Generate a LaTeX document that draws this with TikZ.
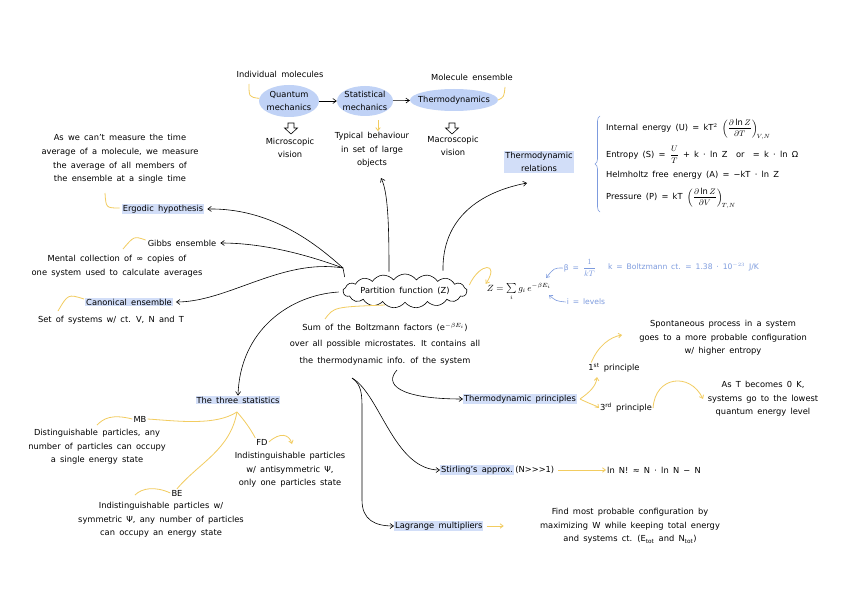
\documentclass[tikz,border=0pt]{standalone}
\usepackage{fontspec}
\setmainfont{DejaVu Sans}[WordSpace=1.6]
\usetikzlibrary{arrows.meta,shapes.symbols,shapes.geometric,decorations.pathreplacing}
\definecolor{hlblue}{RGB}{210,222,248}
\definecolor{blobblue}{RGB}{192,210,246}
\definecolor{ylw}{RGB}{242,204,96}
\definecolor{annblue}{RGB}{125,155,222}
\begin{document}
\begin{tikzpicture}[x=1pt,y=-1pt,
  txt/.style={font=\fontsize{8.3}{13.6}\selectfont, align=center, inner sep=1pt},
  hl/.style={txt, fill=hlblue},
  blob/.style={ellipse, fill=blobblue, inner sep=0pt},
  arr/.style={-{Straight Barb[length=3.5pt,width=5pt]}, semithick, black},
  yarr/.style={-{Straight Barb[length=3pt,width=4.5pt]}, ylw, thick},
  yl/.style={ylw, thick},
  barr/.style={-{Straight Barb[length=3pt,width=4.5pt]}, annblue, semithick},
  hollowdown/.pic={\draw[semithick] (-3,-5) -- (3,-5) -- (3,0) -- (6.5,0) -- (0,6) -- (-6.5,0) -- (-3,0) -- cycle;}
]
\useasboundingbox (0,0) rectangle (848,599);
\fill[white] (0,0) rectangle (848,599);

% ---------- top row ----------
\node[blob, minimum width=60pt, minimum height=32pt] (qmb) at (289,101) {};
\node[blob, minimum width=56pt, minimum height=30pt] (smb) at (365,101) {};
\node[blob, minimum width=88pt, minimum height=22pt] (tdb) at (454,100) {};
\node[txt] (qm) at (qmb) {Quantum\\mechanics};
\node[txt] (sm) at (smb) {Statistical\\mechanics};
\node[txt] (td) at (tdb) {Thermodynamics};
\draw[arr] (qmb) -- (smb);
\draw[arr] (smb) -- (tdb);
\node[txt] (indiv) at (280,74) {Individual molecules};
\node[txt] (molens) at (472,77) {Molecule ensemble};
\draw[yl] (qmb.175) .. controls (249,97) .. (249,84);
\draw[yl] (tdb.east) .. controls (504,97) .. (505,87);
\pic at (291,128) {hollowdown};
\pic at (452,128) {hollowdown};
\node[txt] (micro) at (290,148) {Microscopic\\vision};
\node[txt] (macro) at (453,146) {Macroscopic\\vision};
\node[txt] (typ) at (372,150) {Typical behaviour\\in set of large\\objects};
\draw[yarr] (smb.south) ++(13,4) coordinate (smd) -- ++(0,11);

% ---------- thermodynamic relations ----------
\node[hl] (therrel) at (539,162) {Thermodynamic\\relations};
\draw[annblue, semithick, decorate, decoration={brace, amplitude=5pt}] (600,212) -- (600,116);
\node[txt, anchor=west] (f1) at (605,129) {Internal energy (U) = kT$^2$ $\displaystyle\left(\frac{\partial \ln Z}{\partial T}\right)_{\!V,N}$};
\node[txt, anchor=west] (f2) at (605,155) {Entropy (S) = $\displaystyle\frac{U}{T}$ + k · ln Z \ or \ = k · ln Ω};
\node[txt, anchor=west] (f3) at (605,175) {Helmholtz free energy (A) = −kT · ln Z};
\node[txt, anchor=west] (f4) at (605,198) {Pressure (P) = kT $\displaystyle\left(\frac{\partial \ln Z}{\partial V}\right)_{\!T,N}$};

% ---------- left column ----------
\node[txt] (ergtxt) at (120,159) {As we can't measure the time\\average of a molecule, we measure\\the average of all members of\\the ensemble at a single time};
\node[hl] (erg) at (163,209) {Ergodic hypothesis};
\draw[yl] (erg.west) ++(-2,-1) .. controls (106,208) .. (105,193);
\node[txt] (gibbs) at (182,243) {Gibbs ensemble};
\node[txt] (gibbstxt) at (117,266) {Mental collection of ∞ copies of\\one system used to calculate averages};
\draw[yl] (gibbs.west) ++(-1,-3) .. controls (134,236) .. (123,249);
\node[hl] (canon) at (129,302) {Canonical ensemble};
\node[txt] (canontxt) at (111,320) {Set of systems w/ ct. V, N and T};
\draw[yl] (canon.west) ++(-1,-3) .. controls (68,294) .. (58,311);

% ---------- centre ----------
\node[cloud, draw, semithick, cloud puffs=17, cloud puff arc=110, cloud ignores aspect,
      minimum width=124pt, minimum height=34pt, inner sep=0pt] (pfc) at (405,291) {};
\node[txt] (pf) at (pfc) {Partition function (Z)};
\coordinate (fan) at (343,268);
\draw[semithick] (pfc.west) ++(2,-14) -- (fan);
\draw[arr] (fan) .. controls (312,240) and (268,208) .. ([xshift=3pt]erg.east);
\draw[arr] (fan) .. controls (305,254) and (262,243) .. ([xshift=3pt]gibbs.east);
\draw[arr] (fan) .. controls (282,258) and (228,302) .. ([xshift=3pt]canon.east);
\coordinate (typend) at (381,178);
\draw[arr] (pfc.north) ++(-16,-2) .. controls (389,225) and (388,192) .. (typend);
\coordinate (relend) at (527,183);
\draw[arr] (pfc.north) ++(38,-3) .. controls (442,218) and (480,192) .. (relend);

\node[txt, font=\fontsize{9}{11}\selectfont] (zf) at (519,292) {$Z=\sum\limits_i g_i\,e^{-\beta E_i}$};
\draw[yarr] (pfc.east) ++(2,-6) .. controls (480,262) and (500,262) .. ([yshift=-2pt]zf.north west);
\node[txt, text=annblue, font=\fontsize{7.6}{10}\selectfont] (beta) at (580,268) {β = $\displaystyle\frac{1}{kT}$};
\node[txt, text=annblue, anchor=west, font=\fontsize{7.6}{10}\selectfont] (kB) at (607,267) {k = Boltzmann ct. = 1.38 · 10$^{-23}$ J/K};
\node[txt, text=annblue, font=\fontsize{7.6}{10}\selectfont] (ilev) at (586,302) {i = levels};
\draw[barr] (beta.west) .. controls (554,268) .. (546,278);
\draw[barr] (ilev.west) .. controls (556,301) .. (549,295);

\node[txt, font=\fontsize{8.3}{16.5}\selectfont] (sumtxt) at (385,344) {Sum of the Boltzmann factors (e$^{-\beta E_i}$)\\over all possible microstates. It contains all\\the thermodynamic info. of the system};
\draw[yl] (pfc.south west) ++(20,3) .. controls (334,307) .. (325,319);

% ---------- three statistics ----------
\node[hl] (ts) at (238,400) {The three statistics};
\draw[arr] (pfc.west) ++(-4,1) .. controls (290,295) and (240,330) .. (ts.north);
\node[txt] (mb) at (140,419) {MB};
\node[txt] (mbtxt) at (97,447) {Distinguishable particles, any\\number of particles can occupy\\a single energy state};
\node[txt] (fd) at (262,442) {FD};
\node[txt] (fdtxt) at (290,470) {Indistinguishable particles\\w/ antisymmetric Ψ,\\only one particles state};
\node[txt] (be) at (177,493) {BE};
\node[txt] (betxt) at (161,520) {Indistinguishable particles w/\\symmetric Ψ, any number of particles\\can occupy an energy state};
\coordinate (tsf) at (237,412);
\draw[yl] (tsf) .. controls (215,426) and (178,421) .. (mb.east);
\draw[yl] (tsf) .. controls (244,420) and (250,428) .. (fd.north west);
\draw[yl] (tsf) .. controls (230,450) and (200,462) .. (be.north);
\draw[yl] (mb.west) .. controls (112,414) and (104,418) .. (97,425);
\draw[yarr] (fd.east) .. controls (280,432) and (289,434) .. (292,444);
\draw[yl] (be.west) .. controls (155,486) and (142,488) .. (135,495);

% ---------- principles ----------
\node[hl] (tprin) at (520,399) {Thermodynamic principles};
\draw[arr] (sumtxt.south) ++(12,4) .. controls (384,384) and (398,399) .. (tprin.west);
\node[txt] (p1) at (614,368) {1\textsuperscript{st} principle};
\node[txt] (p3) at (626,408) {3\textsuperscript{rd} principle};
\coordinate (pfork) at (580,399);
\draw[yarr] (pfork) .. controls (590,392) and (596,386) .. (597,377);
\draw[yarr] (pfork) .. controls (590,404) and (597,406) .. (p3.west);
\node[txt] (spont) at (723,338) {Spontaneous process in a system\\goes to a more probable configuration\\w/ higher entropy};
\node[txt] (ast) at (763,399) {As T becomes 0 K,\\systems go to the lowest\\quantum energy level};
\draw[yarr] (p1.north west) ++(4,0) .. controls (598,346) and (610,337) .. (622,335);
\draw[yarr] (p3.east) .. controls (655,376) and (690,372) .. (703,399);

% ---------- Stirling & Lagrange ----------
\coordinate (sl) at (352,378);
\node[hl, anchor=west] (stir) at (440,470) {Stirling's approx.};
\node[txt, anchor=west] (stirN) at (stir.east) {(N{>}{>}{>}1)};
\node[txt, anchor=west] (lnN) at (606,470) {ln N! ≈ N · ln N − N};
\draw[yarr] (stirN.east) ++(3,0) -- (lnN.west);
\draw[arr] (sl) .. controls (380,394) and (394,470) .. (stir.west);
\node[hl, anchor=west] (lag) at (394,526) {Lagrange multipliers};
\node[txt] (lagtxt) at (630,526) {Find most probable configuration by\\maximizing W while keeping total energy\\and systems ct. (E$_{\mathrm{tot}}$ and N$_{\mathrm{tot}}$)};
\draw[yarr] (lag.east) ++(3,0) -- ++(17,0);
\draw[arr] (sl) .. controls (362,385) and (362,395) .. (362,410) -- (362,500) .. controls (362,520) and (375,526) .. (lag.west);
\end{tikzpicture}
\end{document}
